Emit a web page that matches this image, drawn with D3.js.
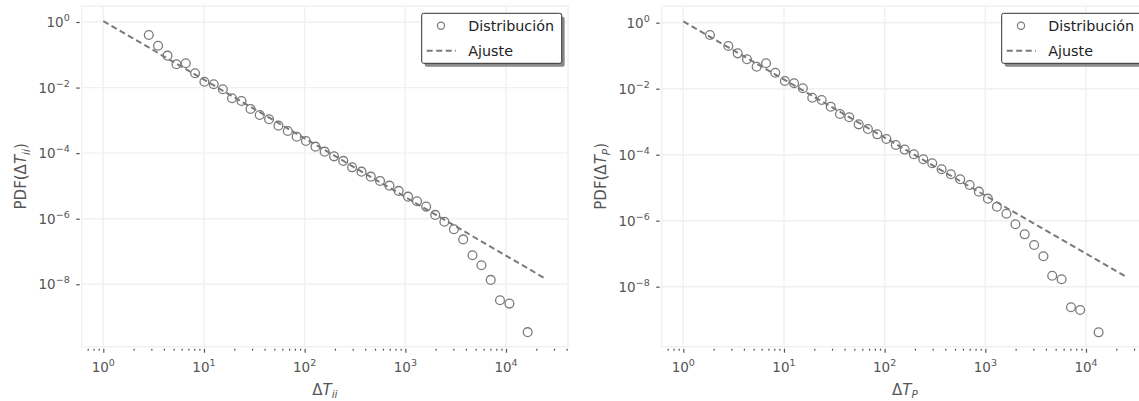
<!DOCTYPE html>
<html><head><meta charset="utf-8">
<script src="https://cdn.jsdelivr.net/npm/d3@7"></script>
<style>body{margin:0;background:#fff} svg{display:block} text{font-family:"DejaVu Sans",sans-serif}</style>
</head><body><svg id="c" width="1139" height="401"></svg>
<script>
// ---- data ----
const leftX = [2.83,3.50,4.34,5.33,6.59,8.16,10.1,12.5,15.4,19.0,23.6,29.0,35.8,44.3,54.9,68,83.3,103,128,158,196,242,296,367,454,561,695,859,1064,1306,1611,1981,2443,3039,3758,4645,5702,7047,8717,10810,16410];
const leftY = [0.40,0.189,0.094,0.0513,0.0551,0.0273,0.0151,0.0126,0.0089,0.00472,0.0039,0.00223,0.00146,0.00108,6.9e-4,4.75e-4,3.18e-4,2.35e-4,1.58e-4,1.11e-4,8.0e-5,5.8e-5,3.7e-5,2.73e-5,1.92e-5,1.42e-5,1.02e-5,7.05e-6,4.72e-6,3.42e-6,2.34e-6,1.31e-6,8.1e-7,4.79e-7,2.34e-7,7.7e-8,3.82e-8,1.36e-8,3.27e-9,2.58e-9,3.47e-10];
const leftFitX = [1, 24900];
const leftFitY = [1.07, 1.46e-8];

const rightX = [1.84,2.80,3.47,4.29,5.35,6.63,8.2,10.2,12.6,15.4,19.1,23.7,29.1,36.0,44.5,55.2,68.2,84.5,104,129,158,195,242,297,368,455,563,698,863,1061,1303,1621,1991,2462,3053,3776,4617,5726,7087,8750,13340];
const rightY = [0.424,0.197,0.118,0.0778,0.0464,0.0589,0.0305,0.0171,0.0146,0.0103,0.00533,0.00455,0.00285,0.00171,0.00136,8.3e-4,6.0e-4,4.15e-4,2.99e-4,1.97e-4,1.43e-4,1.03e-4,7.3e-5,5.5e-5,3.61e-5,2.55e-5,1.8e-5,1.21e-5,7.6e-6,4.65e-6,2.66e-6,1.63e-6,7.8e-7,3.87e-7,1.84e-7,8.4e-8,2.15e-8,1.68e-8,2.38e-9,1.97e-9,4.15e-10];
const rightFitX = [1, 24900];
const rightFitY = [1.1, 2.01e-8];

const xMajor = [1, 10, 100, 1000, 10000];
const xMinor = [0.7,0.8,0.9,2,3,4,5,6,7,8,9,20,30,40,50,60,70,80,90,200,300,400,500,600,700,800,900,2000,3000,4000,5000,6000,7000,8000,9000,20000,30000,40000];
const xExp = ["0","1","2","3","4"];
const yMajor = [1, 1e-2, 1e-4, 1e-6, 1e-8];
const yExp = ["0","\u22122","\u22124","\u22126","\u22128"];
const legendLabels = ["Distribución", "Ajuste"];

// ---- drawing ----
const svg = d3.select("#c");
const C = "#7a7a7a", TXT = "#555", GRID = "#f0f0f0";

function panel(o){
  const g = svg.append("g");
  const x = d3.scaleLog().domain([1, 1e4]).range([o.x0, o.x4]);
  const y = d3.scaleLog().domain([1, 1e-8]).range([o.y0, o.y8]);
  const L = o.left, R = o.right, T = o.top, B = o.bottom;

  g.selectAll(".gx").data(xMajor).join("line")
    .attr("x1", d => x(d)).attr("x2", d => x(d)).attr("y1", T).attr("y2", B)
    .attr("stroke", GRID).attr("stroke-width", 1.4);
  g.selectAll(".gy").data(yMajor).join("line")
    .attr("y1", d => y(d)).attr("y2", d => y(d)).attr("x1", L).attr("x2", R)
    .attr("stroke", GRID).attr("stroke-width", 1.4);
  g.append("rect").attr("x", L).attr("y", T).attr("width", R - L).attr("height", B - T)
    .attr("fill", "none").attr("stroke", GRID).attr("stroke-width", 1.4);

  // x axis ticks
  const ax = g.append("g").attr("transform", `translate(0,${B + 2})`)
    .call(d3.axisBottom(x).tickValues(xMajor).tickSize(4).tickFormat(""));
  const axm = g.append("g").attr("transform", `translate(0,${B + 2})`)
    .call(d3.axisBottom(x).tickValues(xMinor.filter(v => x(v) >= L && x(v) <= R)).tickSize(2).tickFormat(""));
  [ax, axm].forEach(a => { a.select(".domain").remove(); a.selectAll("line").attr("stroke", TXT).attr("stroke-width", 1.2); });

  const ay = g.append("g").attr("transform", `translate(${L - 2},0)`)
    .call(d3.axisLeft(y).tickValues(yMajor).tickSize(3.5).tickFormat(""));
  ay.select(".domain").remove();
  ay.selectAll("line").attr("stroke", TXT).attr("stroke-width", 1.2);

  // tick labels
  xMajor.forEach((v, i) => {
    const t = g.append("text").attr("x", x(v)).attr("y", B + 25).attr("text-anchor", "middle")
      .attr("fill", TXT).attr("font-size", 13.5);
    t.append("tspan").text("10");
    t.append("tspan").attr("dy", -6).attr("font-size", 9.5).text(xExp[i]);
  });
  yMajor.forEach((v, i) => {
    const t = g.append("text").attr("x", L - 12).attr("y", y(v) + 5).attr("text-anchor", "end")
      .attr("fill", TXT).attr("font-size", 13.5);
    t.append("tspan").text("10");
    t.append("tspan").attr("dy", -6).attr("font-size", 9.5).text(yExp[i]);
  });

  // axis labels
  const xl = g.append("text").attr("x", (L + R) / 2).attr("y", B + 48).attr("text-anchor", "middle")
    .attr("fill", TXT).attr("font-size", 15);
  xl.append("tspan").text("\u0394");
  xl.append("tspan").attr("font-style", "italic").text("T");
  xl.append("tspan").attr("font-style", "italic").attr("font-size", 10.5).attr("dy", 3.5).text(o.sub);

  const yl = g.append("text").attr("transform", `translate(${o.ylx},${(T + B) / 2}) rotate(-90)`)
    .attr("text-anchor", "middle").attr("fill", TXT).attr("font-size", 15);
  yl.append("tspan").text("PDF(\u0394");
  yl.append("tspan").attr("font-style", "italic").text("T");
  yl.append("tspan").attr("font-style", "italic").attr("font-size", 10.5).attr("dy", 3.5).text(o.sub);
  yl.append("tspan").attr("dy", -3.5).text(")");

  // fit line
  const line = d3.line().x(d => x(d[0])).y(d => y(d[1]));
  g.append("path").datum(d3.zip(o.fx, o.fy)).attr("d", line)
    .attr("fill", "none").attr("stroke", C).attr("stroke-width", 2).attr("stroke-dasharray", "6,3.5");

  // points
  g.selectAll(".pt").data(d3.zip(o.px, o.py)).join("circle")
    .attr("cx", d => x(d[0])).attr("cy", d => y(d[1])).attr("r", 4.4)
    .attr("fill", "none").attr("stroke", C).attr("stroke-width", 1.3);

  // legend
  const lx = R - 146.3, ly = T + 7.3, lw = 140, lh = 50;
  g.append("rect").attr("x", lx + 3).attr("y", ly + 3.5).attr("width", lw).attr("height", lh)
    .attr("rx", 2).attr("fill", "#8a8a8a");
  g.append("rect").attr("x", lx).attr("y", ly).attr("width", lw).attr("height", lh)
    .attr("rx", 2).attr("fill", "#fff").attr("stroke", "#333").attr("stroke-width", 1);
  g.append("circle").attr("cx", lx + 19.3).attr("cy", ly + 12.4).attr("r", 3.6)
    .attr("fill", "none").attr("stroke", C).attr("stroke-width", 1.2);
  g.append("line").attr("x1", lx + 5).attr("x2", lx + 34.3).attr("y1", ly + 37.4).attr("y2", ly + 37.4)
    .attr("stroke", C).attr("stroke-width", 2).attr("stroke-dasharray", "6,3.5");
  legendLabels.forEach((s, i) => {
    g.append("text").attr("x", lx + 46.6).attr("y", ly + 17.5 + i * 25).attr("fill", "#222")
      .attr("font-size", 14.3).text(s);
  });
}

panel({left: 81.7, right: 568, top: 6, bottom: 346.7, x0: 103.3, x4: 506, y0: 22, y8: 284.3,
  px: leftX, py: leftY, fx: leftFitX, fy: leftFitY, sub: "ii", ylx: 26});
panel({left: 661.7, right: 1148, top: 6, bottom: 346.7, x0: 683.3, x4: 1086, y0: 22.7, y8: 286.7,
  px: rightX, py: rightY, fx: rightFitX, fy: rightFitY, sub: "P", ylx: 606});
</script></body></html>
